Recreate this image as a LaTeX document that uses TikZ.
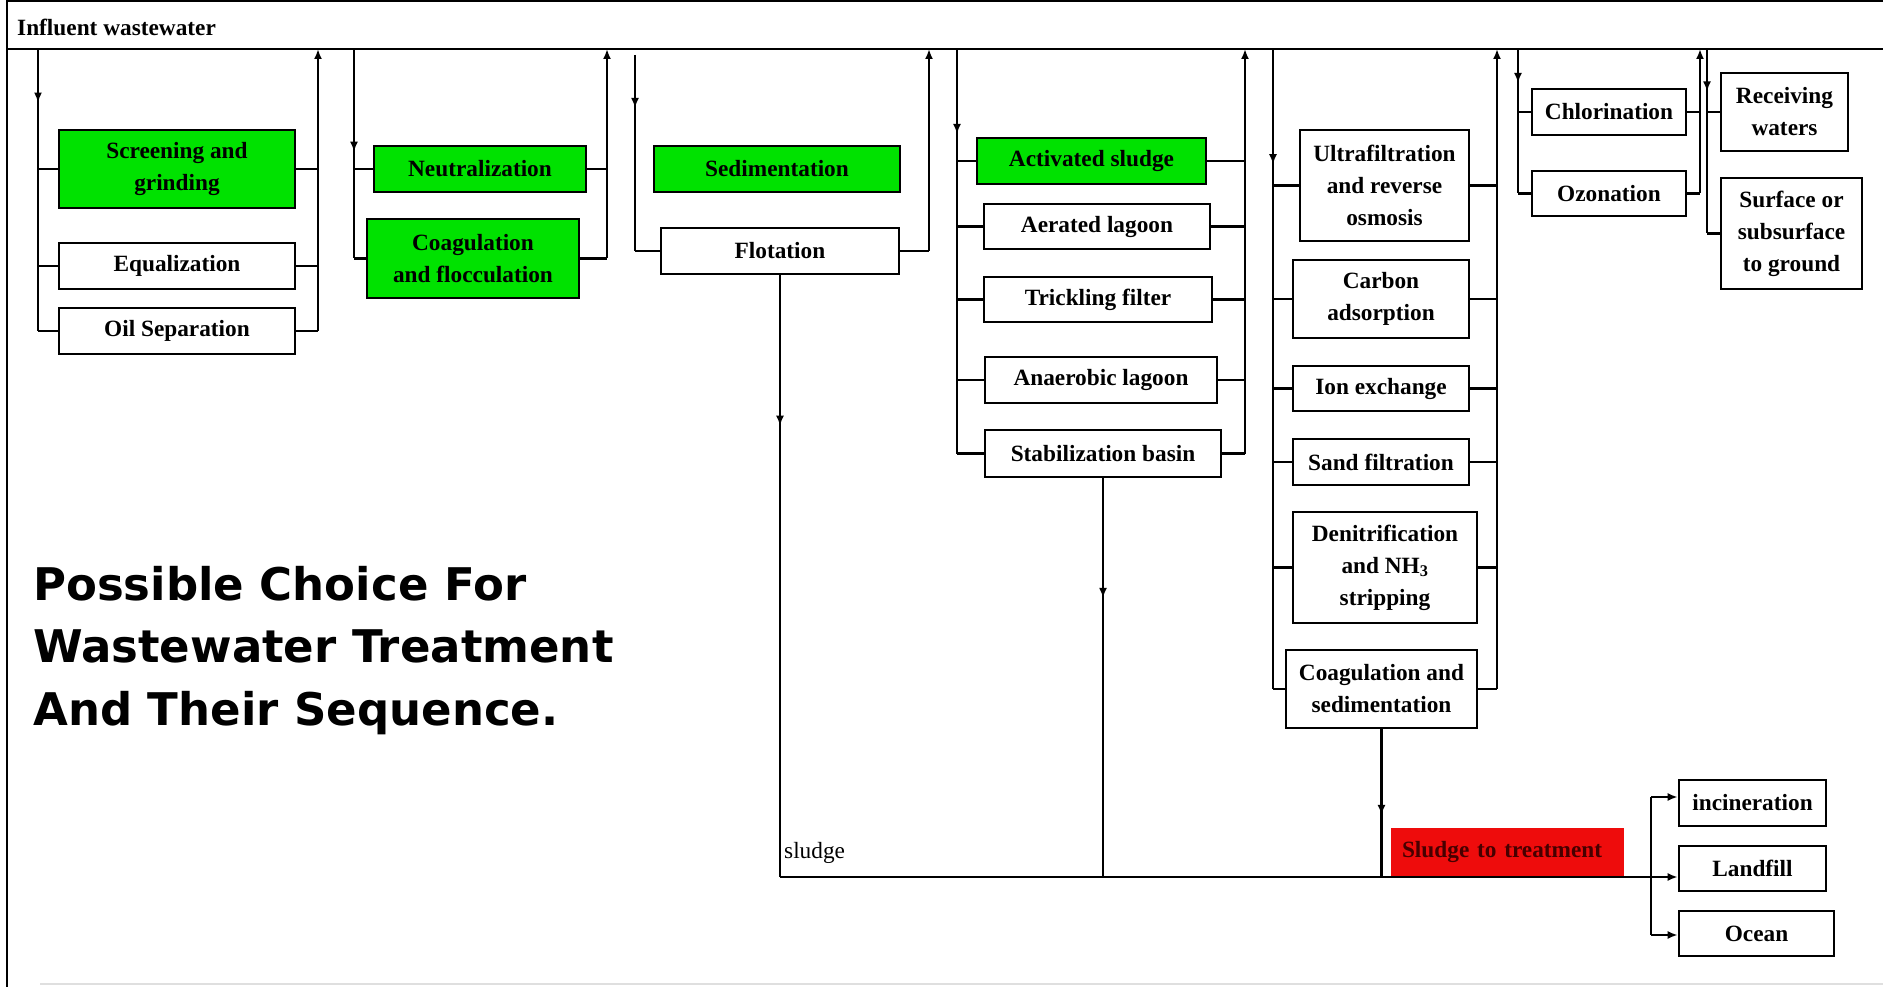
\documentclass[tikz,border=0pt]{standalone}
\usepackage{fontspec}
\setmainfont{Liberation Serif}
\newfontfamily\titlefont{DejaVu Sans}
\usetikzlibrary{arrows.meta,decorations.markings}
\definecolor{boxgreen}{RGB}{0,226,0}
\definecolor{sludgered}{RGB}{238,12,12}
\definecolor{sludgetext}{RGB}{70,0,0}
\tikzset{
	unit/.style={draw, line width=2.6pt, inner sep=0pt, align=center, font=\fontsize{23.3}{32}\selectfont\bfseries},
	greenunit/.style={unit, fill=boxgreen},
	pipe/.style={line width=2.2pt},
	midarrow/.style={postaction={decorate}, decoration={markings, mark=at position #1 with {\arrow{>}}}},
}
\begin{document}
\begin{tikzpicture}[x=1pt, y=-1pt, >={Latex[length=10pt,width=8pt]}]
		\useasboundingbox (0,0) rectangle (1883,987);
		% frame and header
		\draw[line width=2pt] (7,987) -- (7,1) -- (1883,1);
		\draw[gray!25, line width=2pt] (40,984) -- (1883,984);
		\node[anchor=west, inner sep=0pt, font=\fontsize{23.3}{28}\selectfont\bfseries] (influent) at (17,27) {Influent wastewater};
		\coordinate (hdrL) at (7,49);
		\coordinate (hdrR) at (1883,49);
		\draw[line width=2.8pt] (hdrL) -- (hdrR);
		
		\node[anchor=north west, inner sep=0pt, align=left, font=\titlefont\bfseries\fontsize{45}{62.5}\selectfont] (title) at (33,566) {Possible Choice For\\Wastewater Treatment\\And Their Sequence.};
		
		% preliminary
		\node[greenunit, minimum width=236pt, minimum height=78pt] (screen) at (177,169) {Screening and\\grinding};
		\node[unit, minimum width=236pt, minimum height=46pt, below of=screen, node distance=97pt] (equal) {Equalization};
		\node[unit, minimum width=236pt, minimum height=46pt, below of=equal, node distance=65pt] (oilsep) {Oil Separation};
		
		% chemical
		\node[greenunit, minimum width=212pt, minimum height=46pt] (neutral) at (480,169) {Neutralization};
		\node[greenunit, minimum width=212pt, minimum height=79pt, below of=neutral, node distance=89.5pt, xshift=-7pt] (coagfloc) {Coagulation\\and flocculation};
		
		% primary
		\node[greenunit, minimum width=246pt, minimum height=46pt] (sedim) at (777,169) {Sedimentation};
		\node[unit, minimum width=238pt, minimum height=46pt, below of=sedim, node distance=82pt, xshift=3pt] (flot) {Flotation};
		
		% biological
		\node[greenunit, minimum width=229pt, minimum height=46pt] (actsl) at (1091.5,161) {Activated sludge};
		\node[unit, minimum width=226pt, minimum height=45pt, below of=actsl, node distance=65.5pt, xshift=5.5pt] (aerlag) {Aerated lagoon};
		\node[unit, minimum width=228pt, minimum height=45pt, below of=aerlag, node distance=73pt, xshift=1pt] (trick) {Trickling filter};
		\node[unit, minimum width=232pt, minimum height=46pt, below of=trick, node distance=80.5pt, xshift=3pt] (anaer) {Anaerobic lagoon};
		\node[unit, minimum width=236pt, minimum height=47pt, below of=anaer, node distance=73.5pt, xshift=2pt] (stab) {Stabilization basin};
		
		% advanced
		\node[unit, minimum width=169pt, minimum height=111pt] (ultraf) at (1384.5,185.5) {Ultrafiltration\\and reverse\\osmosis};
		\node[unit, minimum width=176pt, minimum height=78pt, below of=ultraf, node distance=113.5pt, xshift=-3.5pt] (carbon) {Carbon\\adsorption};
		\node[unit, minimum width=176pt, minimum height=45pt, below of=carbon, node distance=89.5pt] (ionex) {Ion exchange};
		\node[unit, minimum width=176pt, minimum height=46pt, below of=ionex, node distance=73.5pt] (sandf) {Sand filtration};
		\node[unit, minimum width=184pt, minimum height=111pt, below of=sandf, node distance=105.5pt, xshift=4pt] (denit) {Denitrification\\and NH\textsubscript{3}\\stripping};
		\node[unit, minimum width=191pt, minimum height=78pt, below of=denit, node distance=121.5pt, xshift=-3.5pt] (coagsed) {Coagulation and\\sedimentation};
		
		% disinfection and disposal
		\node[unit, minimum width=154pt, minimum height=46pt] (chlor) at (1609,112) {Chlorination};
		\node[unit, minimum width=154pt, minimum height=45pt, below of=chlor, node distance=81.5pt] (ozon) {Ozonation};
		\node[unit, minimum width=127pt, minimum height=78pt] (recv) at (1784.5,112) {Receiving\\waters};
		\node[unit, minimum width=141pt, minimum height=111pt, below of=recv, node distance=121.5pt, xshift=7pt] (surf) {Surface or\\subsurface\\to ground};
		
		% sludge
		\node[fill=sludgered, minimum height=48pt, text width=211pt, inner xsep=11pt, inner ysep=0pt, align=left, text=sludgetext, font=\fontsize{23.3}{28}\selectfont\bfseries] (sludgetreat) at (1507.5,852) {Sludge to treatment};
		\node[anchor=west, inner sep=0pt, font=\fontsize{23.3}{28}\selectfont] (sludgelbl) at (784,853) {sludge};
		\node[unit, minimum width=147pt, minimum height=46pt] (incin) at (1752.5,803) {incineration};
		\node[unit, minimum width=147pt, minimum height=45pt, below of=incin, node distance=65.5pt] (landf) {Landfill};
		\node[unit, minimum width=155pt, minimum height=45pt, below of=landf, node distance=65pt, xshift=4pt] (ocean) {Ocean};
		
		% bus lines
		\coordinate (in1) at (38,49);
		\coordinate (out1) at (318,49);
		\coordinate (in2) at (354,49);
		\coordinate (out2) at (607,49);
		\coordinate (in3) at (635,55);
		\coordinate (out3) at (929,49);
		\coordinate (in4) at (957,49);
		\coordinate (out4) at (1245,49);
		\coordinate (in5) at (1273,49);
		\coordinate (out5) at (1497,49);
		\coordinate (in6) at (1518,49);
		\coordinate (out6) at (1700,49);
		\coordinate (in7) at (1707,49);
		
		\draw[pipe, midarrow=0.19] (in1) -- (in1 |- oilsep.west);
		\draw[pipe] (in1 |- screen.west) -- (screen.west);
		\draw[pipe] (in1 |- equal.west) -- (equal.west);
		\draw[pipe] (in1 |- oilsep.west) -- (oilsep.west);
		\draw[pipe] (screen.east) -- (screen.east -| out1);
		\draw[pipe] (equal.east) -- (equal.east -| out1);
		\draw[pipe, ->] (oilsep.east -| out1) -- (out1);
		\draw[pipe] (oilsep.east) -- (oilsep.east -| out1);
		
		\draw[pipe, midarrow=0.49] (in2) -- (in2 |- coagfloc.west);
		\draw[pipe] (in2 |- neutral.west) -- (neutral.west);
		\draw[pipe] (in2 |- coagfloc.west) -- (coagfloc.west);
		\draw[pipe] (neutral.east) -- (neutral.east -| out2);
		\draw[pipe] (coagfloc.east) -- (coagfloc.east -| out2);
		\draw[pipe, ->] (coagfloc.east -| out2) -- (out2);
		
		\draw[pipe, midarrow=0.27] (in3) -- (in3 |- flot.west);
		\draw[pipe] (in3 |- flot.west) -- (flot.west);
		\draw[pipe] (flot.east) -- (flot.east -| out3);
		\draw[pipe, ->] (flot.east -| out3) -- (out3);
		
		\draw[pipe, midarrow=0.21] (in4) -- (in4 |- stab.west);
		\draw[pipe] (in4 |- actsl.west) -- (actsl.west);
		\draw[pipe] (in4 |- aerlag.west) -- (aerlag.west);
		\draw[pipe] (in4 |- trick.west) -- (trick.west);
		\draw[pipe] (in4 |- anaer.west) -- (anaer.west);
		\draw[pipe] (in4 |- stab.west) -- (stab.west);
		\draw[pipe] (actsl.east) -- (actsl.east -| out4);
		\draw[pipe] (aerlag.east) -- (aerlag.east -| out4);
		\draw[pipe] (trick.east) -- (trick.east -| out4);
		\draw[pipe] (anaer.east) -- (anaer.east -| out4);
		\draw[pipe] (stab.east) -- (stab.east -| out4);
		\draw[pipe, ->] (stab.east -| out4) -- (out4);
		
		\draw[pipe, midarrow=0.18] (in5) -- (in5 |- coagsed.west);
		\draw[pipe] (in5 |- ultraf.west) -- (ultraf.west);
		\draw[pipe] (in5 |- carbon.west) -- (carbon.west);
		\draw[pipe] (in5 |- ionex.west) -- (ionex.west);
		\draw[pipe] (in5 |- sandf.west) -- (sandf.west);
		\draw[pipe] (in5 |- denit.west) -- (denit.west);
		\draw[pipe] (in5 |- coagsed.west) -- (coagsed.west);
		\draw[pipe] (ultraf.east) -- (ultraf.east -| out5);
		\draw[pipe] (carbon.east) -- (carbon.east -| out5);
		\draw[pipe] (ionex.east) -- (ionex.east -| out5);
		\draw[pipe] (sandf.east) -- (sandf.east -| out5);
		\draw[pipe] (denit.east) -- (denit.east -| out5);
		\draw[pipe] (coagsed.east) -- (coagsed.east -| out5);
		\draw[pipe, ->] (coagsed.east -| out5) -- (out5);
		
		\draw[pipe, midarrow=0.235] (in6) -- (in6 |- ozon.west);
		\draw[pipe] (in6 |- chlor.west) -- (chlor.west);
		\draw[pipe] (in6 |- ozon.west) -- (ozon.west);
		\draw[pipe] (chlor.east) -- (chlor.east -| out6);
		\draw[pipe] (ozon.east) -- (ozon.east -| out6);
		\draw[pipe, ->] (ozon.east -| out6) -- (out6);
		
		\draw[pipe, midarrow=0.23] (in7) -- (in7 |- surf.west);
		\draw[pipe] (in7 |- recv.west) -- (recv.west);
		\draw[pipe] (in7 |- surf.west) -- (surf.west);
		
		% sludge lines
		\coordinate (sl) at (780,877);
		\coordinate (brtop) at (1651,797);
		\coordinate (brbot) at (1651,935);
		\draw[pipe, midarrow=0.25] (flot.south) -- (sl);
		\draw[pipe, midarrow=0.3] (stab.south) -- (stab.south |- sl);
		\draw[pipe, midarrow=0.58] (coagsed.south) -- (coagsed.south |- sl);
		\draw[pipe, ->] (sl) -- (sl -| landf.west);
		\draw[pipe] (brtop) -- (brbot);
		\draw[pipe, ->] (brtop) -- (brtop -| incin.west);
		\draw[pipe, ->] (brbot) -- (brbot -| ocean.west);
		\end{tikzpicture}
\end{document}
